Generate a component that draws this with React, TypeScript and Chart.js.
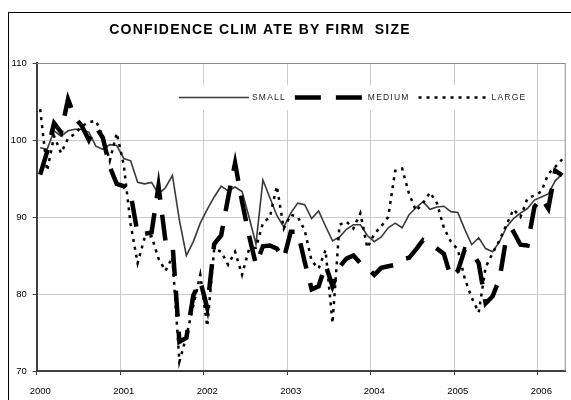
import React, { useEffect, useRef } from 'react';
import { Chart, registerables } from 'chart.js';

Chart.register(...registerables);

const chartTitle = 'CONFIDENCE CLIM ATE BY FIRM  SIZE';
const seriesNames = ['SMALL', 'MEDIUM', 'LARGE'];
const yearLabels = ['2000', '2001', '2002', '2003', '2004', '2005', '2006'];
const firstYear = 2000;
const lastMonthCount = 76; // Jan 2000 .. Apr 2006

const small = [
  99.0, 98.8, 101.2, 100.5, 101.2, 101.4, 101.4, 101.0, 99.2, 98.8, 99.4, 99.3,
  97.6, 97.3, 94.5, 94.3, 94.5, 93.0, 93.8, 95.4, 89.6, 85.0, 86.8, 89.2,
  91.0, 92.6, 94.0, 93.4, 93.9, 93.3, 90.0, 86.5, 94.8, 92.5, 90.2, 88.7,
  90.5, 91.8, 91.6, 89.8, 90.8, 88.8, 86.9, 87.4, 88.4, 89.0, 89.0, 87.6,
  86.8, 87.4, 88.6, 89.2, 88.6, 90.3, 91.2, 92.0, 91.0, 91.3, 91.4, 90.7,
  90.6, 88.4, 86.4, 87.3, 85.9, 85.5, 86.8, 88.7, 89.8, 90.5, 91.1, 92.2,
  92.6, 93.0, 94.7, 95.6,
];

const medium = [
  95.5, 98.5, 102.2, 101.0, 105.3, 102.9, 101.8, 100.0, 101.7, 100.3, 96.5, 94.3,
  94.0, 93.0, 87.8, 87.8, 88.0, 94.0, 86.9, 86.7, 73.8, 74.3, 79.8, 81.7,
  78.2, 86.5, 87.6, 92.5, 97.0, 92.0, 87.6, 83.8, 86.2, 86.3, 85.9, 84.6,
  88.1, 88.1, 84.2, 80.6, 81.0, 83.8, 81.0, 83.5, 84.6, 85.0, 84.0, 83.4,
  82.5, 83.4, 83.6, 83.8, 84.5, 84.7, 85.8, 87.0, 86.5, 85.9, 85.2, 82.2,
  83.0, 85.8, 85.5, 84.0, 78.8, 79.7, 82.0, 87.5, 88.1, 86.4, 86.3, 91.3,
  92.5, 91.1, 96.0, 95.4,
];

const large = [
  104.0, 96.0, 100.5, 98.3, 100.2, 100.8, 101.8, 102.3, 102.5, 100.5, 97.3, 100.9,
  96.8, 89.0, 84.0, 87.3, 87.5, 84.6, 83.0, 84.8, 71.2, 74.5, 78.5, 82.5,
  75.8, 85.9, 85.5, 83.8, 85.5, 82.5, 85.8, 86.0, 89.2, 90.0, 94.0, 88.5,
  90.3, 90.0, 88.3, 84.3, 83.3, 85.7, 76.2, 89.0, 89.4, 88.5, 90.5, 86.0,
  87.8, 88.8, 90.0, 96.0, 96.3, 93.0, 90.8, 91.8, 93.2, 91.8, 88.6, 86.8,
  85.8, 82.0, 79.5, 77.6, 83.5, 85.3, 87.0, 89.0, 91.0, 90.0, 92.4, 92.8,
  93.3, 95.6, 96.5, 97.5,
];

const monthPos = (i: number) => firstYear + (i + 0.5) / 12;
const toPoints = (arr: number[]) => arr.map((v, i) => ({ x: monthPos(i), y: v }));

const FONT = '"Liberation Sans", Arial, sans-serif';

const decorPlugin = {
  id: 'decor',
  beforeDraw(chart: any) {
    const ctx = chart.ctx;
    ctx.save();
    ctx.fillStyle = '#ffffff';
    ctx.fillRect(0, 0, chart.width, chart.height);
    ctx.strokeStyle = '#000000';
    ctx.lineWidth = 1;
    ctx.strokeRect(8.5, 12.5, chart.width + 40, chart.height + 40);
    ctx.font = `bold 14px ${FONT}`;
    (ctx as any).letterSpacing = '1.2px';
    ctx.fillStyle = '#000000';
    ctx.textAlign = 'center';
    ctx.textBaseline = 'middle';
    ctx.fillText(chartTitle, 260, 30);
    ctx.restore();
  },
  beforeDatasetsDraw(chart: any) {
    const ctx = chart.ctx;
    const { left, right, top, bottom } = chart.chartArea;
    ctx.save();
    ctx.strokeStyle = '#8c8c8c';
    ctx.lineWidth = 1;
    ctx.beginPath();
    ctx.moveTo(left, top + 0.5);
    ctx.lineTo(right - 0.5, top + 0.5);
    ctx.lineTo(right - 0.5, bottom);
    ctx.stroke();
    // legend box
    ctx.fillStyle = '#ffffff';
    ctx.fillRect(176, 85, 354, 25);
    const y = 97.5;
    let x = 179;
    ctx.font = `8.5px ${FONT}`;
    (ctx as any).letterSpacing = '1.2px';
    ctx.textAlign = 'left';
    ctx.textBaseline = 'middle';
    chart.data.datasets.forEach((ds: any) => {
      ctx.save();
      ctx.strokeStyle = ds.borderColor;
      ctx.lineWidth = ds.borderWidth;
      ctx.setLineDash(ds.borderDash || []);
      ctx.lineCap = 'butt';
      ctx.beginPath();
      ctx.moveTo(x, y);
      ctx.lineTo(x + 70, y);
      ctx.stroke();
      ctx.restore();
      x += 73;
      ctx.fillStyle = '#222222';
      ctx.fillText(ds.label, x, y + 0.5);
      x += ctx.measureText(ds.label).width + 9;
    });
    ctx.restore();
  },
};

export default function App() {
  const ref = useRef<HTMLCanvasElement | null>(null);

  useEffect(() => {
    if (!ref.current) return;
    const tickFont = { family: FONT, size: 9.5 };
    const chart = new Chart(ref.current, {
      type: 'line',
      data: {
        datasets: [
          {
            label: seriesNames[0],
            data: toPoints(small),
            borderColor: '#3a3a3a',
            borderWidth: 1.6,
            pointRadius: 0,
            tension: 0,
            fill: false,
            order: 3,
          },
          {
            label: seriesNames[1],
            data: toPoints(medium),
            borderColor: '#000000',
            borderWidth: 4.5,
            borderDash: [26, 15],
            pointRadius: 0,
            tension: 0,
            fill: false,
            order: 2,
          },
          {
            label: seriesNames[2],
            data: toPoints(large),
            borderColor: '#000000',
            borderWidth: 2.5,
            borderDash: [3, 5],
            pointRadius: 0,
            tension: 0,
            fill: false,
            order: 1,
          },
        ],
      },
      options: {
        responsive: false,
        animation: false,
        events: [],
        layout: { padding: { top: 63, right: 5.3, left: 0, bottom: 0 } },
        plugins: {
          legend: { display: false },
          title: { display: false },
          tooltip: { enabled: false },
        },
        scales: {
          x: {
            type: 'linear',
            min: firstYear,
            max: firstYear + lastMonthCount / 12,
            ticks: {
              stepSize: 1,
              includeBounds: false,
              autoSkip: false,
              maxRotation: 0,
              padding: 11,
              labelOffset: 3.5,
              color: '#000000',
              font: tickFont,
              callback: (v: any) => yearLabels[Math.round(v) - firstYear] ?? '',
            },
            grid: { color: '#cccccc', tickColor: '#404040', tickLength: 4, lineWidth: 1 },
            border: { color: '#404040', width: 2 },
            afterFit: (s: any) => {
              s.height = 29;
            },
          },
          y: {
            min: 70,
            max: 110,
            ticks: {
              stepSize: 10,
              padding: 6,
              color: '#000000',
              font: tickFont,
            },
            grid: { color: '#cccccc', tickColor: '#404040', tickLength: 4, lineWidth: 1 },
            border: { color: '#404040', width: 2 },
            afterFit: (s: any) => {
              s.width = 36.7;
            },
          },
        },
      },
      plugins: [decorPlugin],
    } as any);
    return () => chart.destroy();
  }, []);

  return (
    <div style={{ position: 'fixed', left: 0, top: 0, width: 571, height: 400, background: '#fff' }}>
      <canvas ref={ref} width={571} height={400} style={{ display: 'block' }} />
    </div>
  );
}
